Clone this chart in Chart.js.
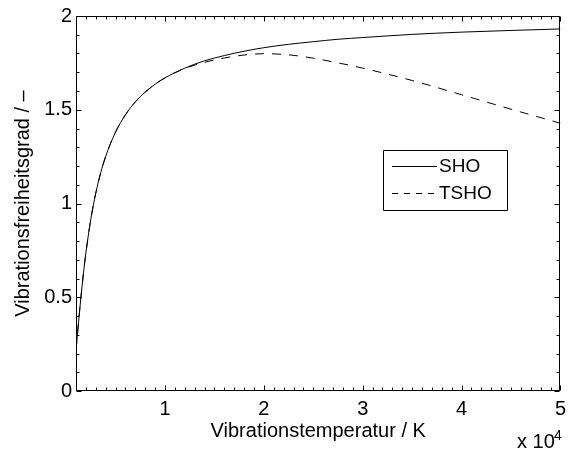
<!DOCTYPE html>
<html>
<head>
<meta charset="utf-8">
<script src="https://cdn.jsdelivr.net/npm/chart.js@4/dist/chart.umd.min.js"></script>
<style>
  html, body { margin: 0; padding: 0; background: #fff; }
  canvas { display: block; }
</style>
</head>
<body>
<canvas id="c" width="572" height="454"></canvas>
<script>
// Vibration temperature in K
const temps = [1000, 1250, 1500, 1750, 2000, 2500, 3000, 3500, 4000, 5000, 6000, 7000, 8000, 9000,
               10000, 12000, 14000, 16000, 18000, 20000, 22500, 25000, 27500, 30000, 35000, 40000, 45000, 50000];
// Vibrational degrees of freedom, simple harmonic oscillator
const sho = [0.218, 0.363, 0.501, 0.626, 0.736, 0.917, 1.055, 1.164, 1.251, 1.381, 1.473, 1.542, 1.594, 1.636,
             1.670, 1.722, 1.761, 1.789, 1.812, 1.831, 1.849, 1.863, 1.876, 1.885, 1.902, 1.914, 1.923, 1.931];
// Vibrational degrees of freedom, truncated harmonic oscillator
const tsho = [0.218, 0.363, 0.501, 0.626, 0.736, 0.917, 1.055, 1.164, 1.251, 1.381, 1.473, 1.542, 1.594, 1.636,
              1.670, 1.720, 1.753, 1.776, 1.792, 1.799, 1.793, 1.775, 1.750, 1.722, 1.656, 1.580, 1.503, 1.428];
// Axis tick labels
const xMajorTicks = [10000, 20000, 30000, 40000, 50000];
const yMajorTicks = [0, 0.5, 1, 1.5, 2];
const seriesNames = ['SHO', 'TSHO'];

const FONT = 'Liberation Sans, Arial, Helvetica, sans-serif';

function pts(ys) { return temps.map((t, i) => ({ x: t, y: ys[i] })); }

// Box, inward tick marks, legend and exponent label
const framePlugin = {
  id: 'frame',
  afterDraw(chart) {
    const ctx = chart.ctx;
    const a = chart.chartArea;
    const xs = chart.scales.x, ys = chart.scales.y;
    const L = Math.round(a.left) + 0.5, R = Math.round(a.right) - 0.5;
    const T = Math.round(a.top) + 0.5, B = Math.round(a.bottom) - 0.5;
    ctx.save();
    ctx.strokeStyle = '#000';
    ctx.lineWidth = 1;
    ctx.beginPath();
    ctx.rect(L, T, R - L, B - T);
    // x ticks: minor every 1000, major every 10000
    for (let v = xs.min; v <= xs.max + 1e-6; v += 1000) {
      const len = xMajorTicks.includes(v) ? 5 : 3;
      const px = Math.round(xs.getPixelForValue(v)) + 0.5;
      ctx.moveTo(px, B); ctx.lineTo(px, B - len);
      ctx.moveTo(px, T); ctx.lineTo(px, T + len);
    }
    // y ticks: minor every 0.1, major every 0.5
    for (let k = 0; k <= 20; k++) {
      const v = k / 10;
      const len = (k % 5 === 0) ? 5 : 3;
      const py = Math.round(ys.getPixelForValue(v)) + 0.5;
      ctx.moveTo(L, py); ctx.lineTo(L + len, py);
      ctx.moveTo(R, py); ctx.lineTo(R - len, py);
    }
    ctx.stroke();

    // legend
    const lx = 383.5, ly = 150.5, lw = 124, lh = 60;
    ctx.fillStyle = '#fff';
    ctx.fillRect(lx, ly, lw, lh);
    ctx.beginPath();
    ctx.rect(lx, ly, lw, lh);
    ctx.stroke();
    const rows = [166.5, 193.5];
    chart.data.datasets.forEach((ds, i) => {
      ctx.beginPath();
      ctx.setLineDash(i === 1 ? [6, 6] : []);
      ctx.moveTo(392, rows[i]);
      ctx.lineTo(437, rows[i]);
      ctx.stroke();
      ctx.setLineDash([]);
      ctx.fillStyle = '#000';
      ctx.font = '19px ' + FONT;
      ctx.textBaseline = 'middle';
      ctx.textAlign = 'left';
      ctx.fillText(ds.label, 439, rows[i] + 0.5);
    });

    // exponent of the x axis
    ctx.fillStyle = '#000';
    ctx.textBaseline = 'alphabetic';
    ctx.textAlign = 'left';
    ctx.font = '20px ' + FONT;
    ctx.fillText('x 10', 517, 448);
    ctx.font = '14px ' + FONT;
    ctx.fillText('4', 554, 440);
    ctx.restore();
  }
};

new Chart(document.getElementById('c'), {
  type: 'line',
  data: {
    datasets: [
      { label: seriesNames[0], data: pts(sho), borderColor: '#000', borderWidth: 1,
        pointRadius: 0, cubicInterpolationMode: 'monotone', fill: false },
      { label: seriesNames[1], data: pts(tsho), borderColor: '#000', borderWidth: 1,
        borderDash: [9, 8], pointRadius: 0, cubicInterpolationMode: 'monotone', fill: false }
    ]
  },
  options: {
    responsive: false,
    animation: false,
    devicePixelRatio: 1,
    layout: { padding: { top: 13, right: 9, left: 0, bottom: 0 } },
    plugins: { legend: { display: false }, tooltip: { enabled: false } },
    scales: {
      x: {
        type: 'linear',
        min: 1000, max: 50000,
        afterBuildTicks(scale) { scale.ticks = xMajorTicks.map(v => ({ value: v })); },
        afterFit(scale) { scale.height = 63; },
        grid: { display: false, drawTicks: false },
        border: { display: false },
        ticks: { color: '#000', font: { family: FONT, size: 20, lineHeight: 1.2 }, padding: 6,
                 maxRotation: 0, autoSkip: false, callback: v => String(v / 10000) },
        title: { display: true, text: 'Vibrationstemperatur / K', color: '#000',
                 font: { family: FONT, size: 20, lineHeight: 1.2 }, padding: { top: 11, bottom: 11 } }
      },
      y: {
        min: 0, max: 2,
        afterBuildTicks(scale) { scale.ticks = yMajorTicks.map(v => ({ value: v })); },
        afterFit(scale) { scale.width = 76; },
        grid: { display: false, drawTicks: false },
        border: { display: false },
        ticks: { color: '#000', font: { family: FONT, size: 20, lineHeight: 1.2 }, padding: 4,
                 callback: v => String(v) },
        title: { display: true, text: 'Vibrationsfreiheitsgrad / –', color: '#000',
                 font: { family: FONT, size: 20, lineHeight: 1.2 }, padding: { top: 11, bottom: 11 } }
      }
    }
  },
  plugins: [framePlugin]
});
</script>
</body>
</html>
